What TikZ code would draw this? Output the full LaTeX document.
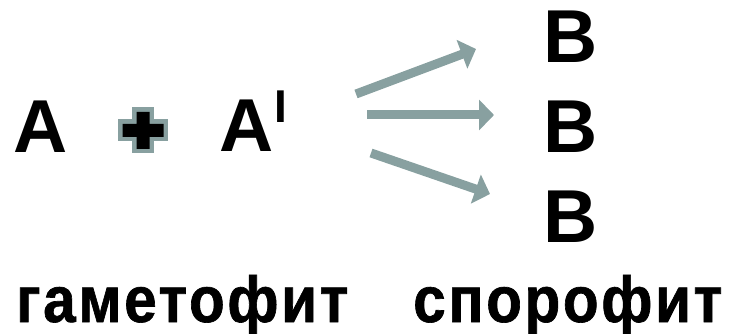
\documentclass[tikz,border=0pt]{standalone}
\usepackage{fontspec}
\setmainfont{Liberation Sans}
\newfontfamily\narrowfont[FakeStretch=0.9,LetterSpace=4,FakeBold=1]{Liberation Sans}
\usetikzlibrary{arrows.meta}
\definecolor{arrowgray}{RGB}{136,160,160}
\begin{document}
\begin{tikzpicture}[x=1pt,y=-1pt,
  big/.style={font=\fontsize{75}{75}\selectfont\bfseries, inner sep=0pt, anchor=base},
  sup/.style={font=\fontsize{46}{46}\selectfont\bfseries, inner sep=0pt, anchor=base},
  lbl/.style={font=\narrowfont\fontsize{65}{65}\selectfont\bfseries, inner sep=0pt, anchor=base west},
  arr/.style={draw=arrowgray, line width=9pt, -{Triangle[length=15pt,width=30pt]}}]
\useasboundingbox (0,0) rectangle (734,334);
% left side
\node[big] (A) at (40.5,153) {A};
\node[big] (A2) at (246.5,152) {A};
\node[sup] (I) at (280.5,123) {I};
% plus sign
\begin{scope}[shift={(143,130.5)}]
\path[draw=arrowgray, line width=9pt, line join=miter]
  (-20.5,-6.5) -- (-6.5,-6.5) -- (-6.5,-18.5) -- (6.5,-18.5) -- (6.5,-6.5) -- (20.5,-6.5)
  -- (20.5,6.5) -- (6.5,6.5) -- (6.5,18.5) -- (-6.5,18.5) -- (-6.5,6.5) -- (-20.5,6.5) -- cycle;
\path[fill=black]
  (-20.5,-6.5) -- (-6.5,-6.5) -- (-6.5,-18.5) -- (6.5,-18.5) -- (6.5,-6.5) -- (20.5,-6.5)
  -- (20.5,6.5) -- (6.5,6.5) -- (6.5,18.5) -- (-6.5,18.5) -- (-6.5,6.5) -- (-20.5,6.5) -- cycle;
\end{scope}
% right side
\node[big] (B1) at (570.5,63) {B};
\node[big] (B2) at (570.5,153) {B};
\node[big] (B3) at (570.5,242) {B};
% arrows
\coordinate (s1) at (356,94);
\coordinate (e1) at (476,49);
\coordinate (s2) at (367,115);
\coordinate (e2) at (494,115);
\coordinate (s3) at (371,153);
\coordinate (e3) at (490,194);
\draw[arr] (s1) -- (e1);
\draw[arr] (s2) -- (e2);
\draw[arr] (s3) -- (e3);
% labels
\node[lbl] (gam) at (16,322) {гаметофит};
\node[lbl] (spo) at (413,322) {спорофит};
\end{tikzpicture}
\end{document}
